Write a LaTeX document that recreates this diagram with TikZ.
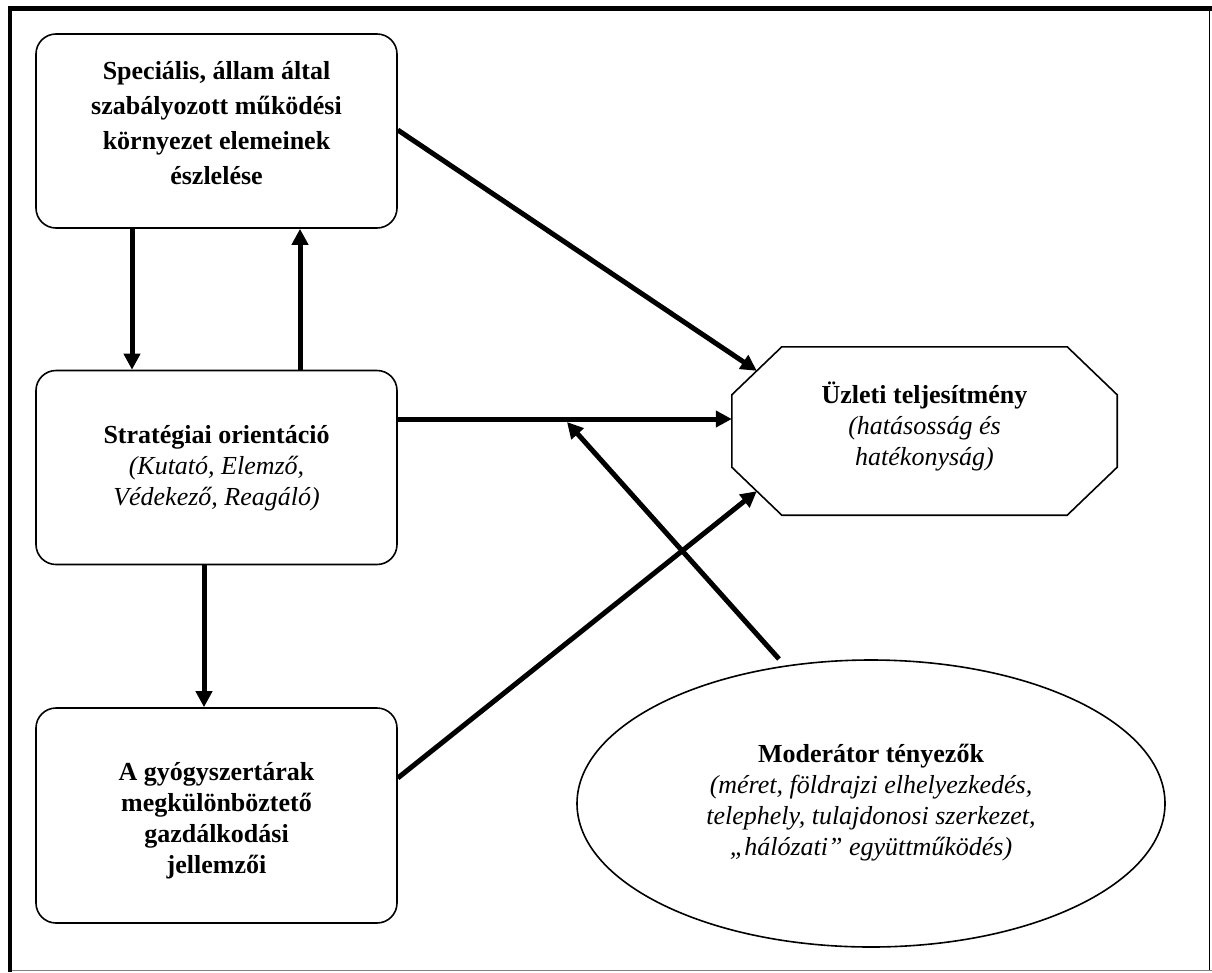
\documentclass[tikz,border=0pt]{standalone}
\usepackage{fontspec}
\setmainfont{Liberation Serif}
\usetikzlibrary{arrows.meta,shapes.geometric,calc}
\begin{document}
\begin{tikzpicture}[x=1pt,y=-1pt,
  box/.style={draw,line width=1.6pt,rounded corners=20pt,minimum width=361pt,minimum height=194pt,inner sep=0pt},
  arr/.style={line width=5pt,-{Triangle[length=16pt,width=16pt]}},
  lbl/.style={align=center,inner sep=0pt,font=\fontsize{26}{31}\selectfont},
  lblwide/.style={align=center,inner sep=0pt,font=\fontsize{26}{35}\selectfont}]
\useasboundingbox (0,0) rectangle (1212,972);
% frame
\draw[line width=4.5pt] (10,972) -- (10,8.5) -- (1212,8.5);
\draw[line width=1.5pt] (1209.5,8.5) -- (1209.5,970.5);
\draw[line width=1.2pt,gray] (12,970.5) -- (1212,970.5);
% boxes
\node[box] (b1) at (216.5,131) {};
\node[box] (b2) at (216.5,467.5) {};
\node[box,minimum height=215pt] (b3) at (216.5,815.5) {};
% octagon
\node[minimum width=385pt,minimum height=168pt,inner sep=0pt] (oct) at (924.5,431) {};
\coordinate (o1) at ([xshift=50pt]oct.north west);
\coordinate (o2) at ([xshift=-50pt]oct.north east);
\coordinate (o3) at ([yshift=-48pt]oct.north east);
\coordinate (o4) at ([yshift=48pt]oct.south east);
\coordinate (o5) at ([xshift=-50pt]oct.south east);
\coordinate (o6) at ([xshift=50pt]oct.south west);
\coordinate (o7) at ([yshift=48pt]oct.south west);
\coordinate (o8) at ([yshift=-48pt]oct.north west);
\draw[line width=1.6pt,line join=miter] (o1) -- (o2) -- (o3) -- (o4) -- (o5) -- (o6) -- (o7) -- (o8) -- cycle;
% ellipse
\node[draw,ellipse,line width=1.6pt,minimum width=588pt,minimum height=287pt,inner sep=0pt] (mod) at (871,803.5) {};
% texts
\node[lblwide,font=\bfseries\fontsize{26}{35}\selectfont] (t1) at (216.5,123) {Speciális, állam által\\szabályozott működési\\környezet elemeinek\\észlelése};
\node[lbl] (t2) at (216.5,468) {\textbf{Stratégiai orientáció}\\\textit{(Kutató, Elemző,}\\\textit{Védekező, Reagáló)}};
\node[lbl,font=\bfseries\fontsize{26}{31}\selectfont] (t3) at (216.5,821) {A gyógyszertárak\\megkülönböztető\\gazdálkodási\\jellemzői};
\node[lbl] (t4) at (924.5,426) {\textbf{Üzleti teljesítmény}\\\textit{(hatásosság és}\\\textit{hatékonyság)}};
\node[lbl] (t5) at (871,803) {\textbf{Moderátor tényezők}\\\textit{(méret, földrajzi elhelyezkedés,}\\\textit{telephely, tulajdonosi szerkezet,}\\\textit{„hálózati” együttműködés)}};
% connectors
\draw[arr] (b1.south -| 132,0) -- (b2.north -| 132,0);
\draw[arr] (b2.north -| 300,0) -- (b1.south -| 300,0);
\draw[arr] (b2.south -| 204,0) -- (b3.north -| 204,0);
\draw[arr] (b1.east |- 0,130) -- ($(o1)!0.5!(o8)$);
\draw[arr] (b2.east |- 0,419) -- (oct.west |- 0,419);
\draw[arr] (b3.east |- 0,778) -- ($(o6)!0.5!(o7)$);
\coordinate (mstart) at (779,659);
\coordinate (mtip) at (567,422);
\draw[arr] (mstart) -- (mtip);
\end{tikzpicture}
\end{document}
